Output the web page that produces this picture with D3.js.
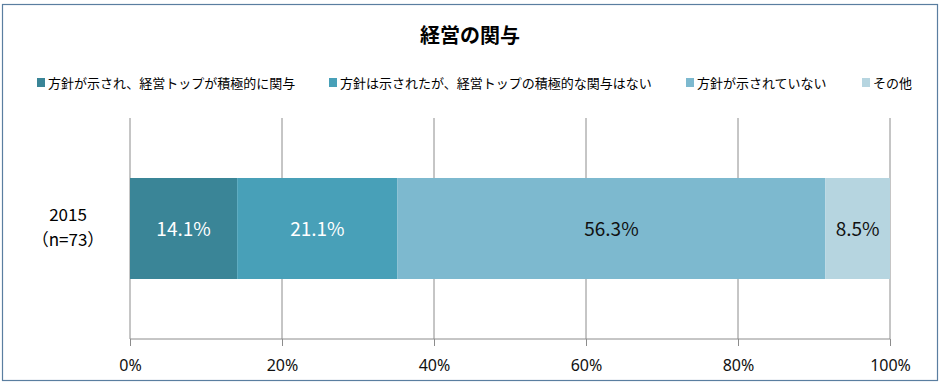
<!DOCTYPE html>
<html>
<head>
<meta charset="utf-8">
<style>
    body { margin: 0; background: #fff; }
    text { font-family: "Noto Sans CJK JP", "Noto Sans", sans-serif; }
</style>
</head>
<body>
<svg id="chart" width="941" height="388"></svg>
<script src="https://cdn.jsdelivr.net/npm/d3@7"></script>
<script>
    // chart data
    const categories = ["2015", "（n=73）"]
    const seriesNames = ["方針が示され、経営トップが積極的に関与", "方針は示されたが、経営トップの積極的な関与はない", "方針が示されていない", "その他"]
    const seriesValues = [14.1, 21.1, 56.3, 8.5]
    const tickValues = [0, 20, 40, 60, 80, 100]
    const colors = ["#3a8597", "#48a0b8", "#7db9cf", "#b6d5e0"]
    const labelColors = ["#fff", "#fff", "#111", "#111"]

    let svg = d3.select("#chart")

    // outer frame
    svg.append("rect")
        .attr("x", 2.5).attr("y", 4.5)
        .attr("width", 935).attr("height", 376)
        .attr("fill", "#fff")
        .attr("stroke", "#5a7ea0")
        .attr("stroke-width", 1.2)

    // title
    svg.append("text")
        .attr("x", 470).attr("y", 43)
        .attr("text-anchor", "middle")
        .style("font-size", "20px")
        .style("font-weight", "bold")
        .text("経営の関与")

    // legend
    let legendX = [37, 329, 686, 862]
    let legend = svg.append("g")
    seriesNames.forEach((name, i) => {
        legend.append("rect")
            .attr("x", legendX[i]).attr("y", 78)
            .attr("width", 8).attr("height", 9)
            .attr("fill", colors[i])
        legend.append("text")
            .attr("x", legendX[i] + 11).attr("y", 87.5)
            .style("font-size", "13px")
            .text(name)
    })

    // scales
    let x = d3.scaleLinear().domain([0, 100]).range([130, 890])
    let y = d3.scaleBand().domain(["2015"]).range([118, 339]).paddingInner(0).paddingOuter(0.594)

    // gridlines
    svg.append("g").selectAll("line")
        .data(tickValues)
        .join("line")
        .attr("x1", d => x(d)).attr("x2", d => x(d))
        .attr("y1", 118).attr("y2", 339)
        .attr("stroke", "#8c8c8c")
        .attr("stroke-width", 1)

    // stacked segments
    let stacked = []
    let acc = 0
    seriesValues.forEach((v, i) => {
        stacked.push({ start: acc, end: acc + v, value: v, i: i })
        acc += v
    })

    svg.append("g").selectAll("rect")
        .data(stacked)
        .join("rect")
        .attr("x", d => x(d.start))
        .attr("width", d => x(Math.min(d.end, 100)) - x(d.start))
        .attr("y", y("2015"))
        .attr("height", y.bandwidth())
        .attr("fill", d => colors[d.i])

    svg.append("g").selectAll("text")
        .data(stacked)
        .join("text")
        .attr("x", d => (x(d.start) + x(Math.min(d.end, 100))) / 2)
        .attr("y", y("2015") + y.bandwidth() / 2 + 7)
        .attr("text-anchor", "middle")
        .attr("fill", d => labelColors[d.i])
        .style("font-size", "19px")
        .text(d => d.value.toFixed(1) + "%")

    // x axis
    let xAxis = d3.axisBottom(x)
        .tickValues(tickValues)
        .tickSize(7)
        .tickPadding(14)
        .tickFormat(d => d + "%")
    let axisG = svg.append("g")
        .attr("transform", "translate(0,339)")
        .call(xAxis)
    axisG.select(".domain").attr("stroke", "#8c8c8c").attr("d", "M130,0H890")
    axisG.selectAll(".tick line").attr("stroke", "#8c8c8c")
    axisG.selectAll(".tick text")
        .attr("fill", "#111")
        .style("font-size", "16px")
        .style("font-family", "'Noto Sans', sans-serif")

    // category label
    svg.append("text")
        .attr("x", 68).attr("y", 221)
        .attr("text-anchor", "middle")
        .style("font-size", "17px")
        .text(categories[0])
    svg.append("text")
        .attr("x", 68).attr("y", 246)
        .attr("text-anchor", "middle")
        .style("font-size", "17px")
        .text(categories[1])
</script>
</body>
</html>
